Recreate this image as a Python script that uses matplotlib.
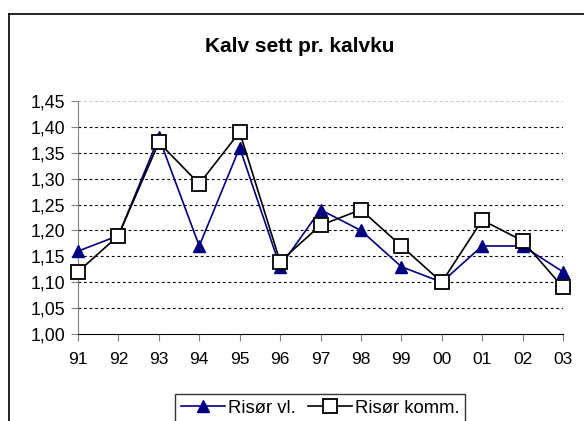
import numpy as np
import matplotlib
matplotlib.use("Agg")
import matplotlib.pyplot as plt
from matplotlib.lines import Line2D

plt.rcParams['font.family'] = ['Liberation Sans', 'DejaVu Sans']

#Data
years = ['91', '92', '93', '94', '95', '96', '97', '98', '99', '00', '01', '02', '03']
risor_vl = [1.16, 1.19, 1.38, 1.17, 1.36, 1.13, 1.24, 1.20, 1.13, 1.10, 1.17, 1.17, 1.12]
risor_komm = [1.12, 1.19, 1.37, 1.29, 1.39, 1.14, 1.21, 1.24, 1.17, 1.10, 1.22, 1.18, 1.09]
yticks = [1.00, 1.05, 1.10, 1.15, 1.20, 1.25, 1.30, 1.35, 1.40, 1.45]

W, H = 584, 421
fig = plt.figure(figsize=(W/100, H/100), dpi=100)
ax = fig.add_axes([78/W, 1-334/H, (563-78)/W, (334-101)/H])

x = np.arange(len(years))
ax.plot(x, risor_vl, color='#000080', lw=1.2, marker='^', ms=9,
        mfc='#000080', mec='#000080', label='Risør vl.', zorder=3, clip_on=False)
ax.plot(x, risor_komm, color='black', lw=1.2, marker='s', ms=9.5,
        mfc='white', mec='black', mew=1.3, label='Risør komm.', zorder=4, clip_on=False)

ax.set_xlim(0, len(years)-1)
ax.set_ylim(1.00, 1.45)
ax.set_xticks(x)
ax.set_xticklabels(years)
ax.set_yticks(yticks)
ax.set_yticklabels([('%.2f' % v).replace('.', ',') for v in yticks])

#dashed gridlines (top one fainter)
for v in yticks[1:]:
    c = '#c8c8c8' if v == 1.45 else 'black'
    ax.axhline(v, color=c, lw=0.8, ls=(0, (2.5, 2.5)), zorder=1)

for s in ['top', 'right']:
    ax.spines[s].set_visible(False)
ax.spines['left'].set_color('#808080')
ax.spines['bottom'].set_color('black')
ax.tick_params(axis='y', direction='out', length=5, color='#808080', labelsize=12.8, pad=4)
ax.tick_params(axis='x', direction='out', length=5, color='#808080', labelsize=12.5, pad=8)

fig.text(300/W, 1-47/H, 'Kalv sett pr. kalvku', ha='center', va='center',
         fontsize=15, fontweight='bold')

leg = fig.legend(loc='upper center', bbox_to_anchor=(320/W, 1-394/H), ncol=2,
                 fontsize=13.3, frameon=True, fancybox=False, edgecolor='black',
                 handlelength=2.4, handletextpad=0.15, columnspacing=0.65,
                 borderpad=0.3, borderaxespad=0)
leg.get_frame().set_linewidth(1.0)

#outer chart frame (cut off at right and bottom)
fig.add_artist(Line2D([9/W, 9/W], [1-14/H, 0], color='black', lw=1.2, transform=fig.transFigure))
fig.add_artist(Line2D([9/W, 1], [1-14/H, 1-14/H], color='black', lw=1.2, transform=fig.transFigure))

fig.savefig('out.png', dpi=100)
